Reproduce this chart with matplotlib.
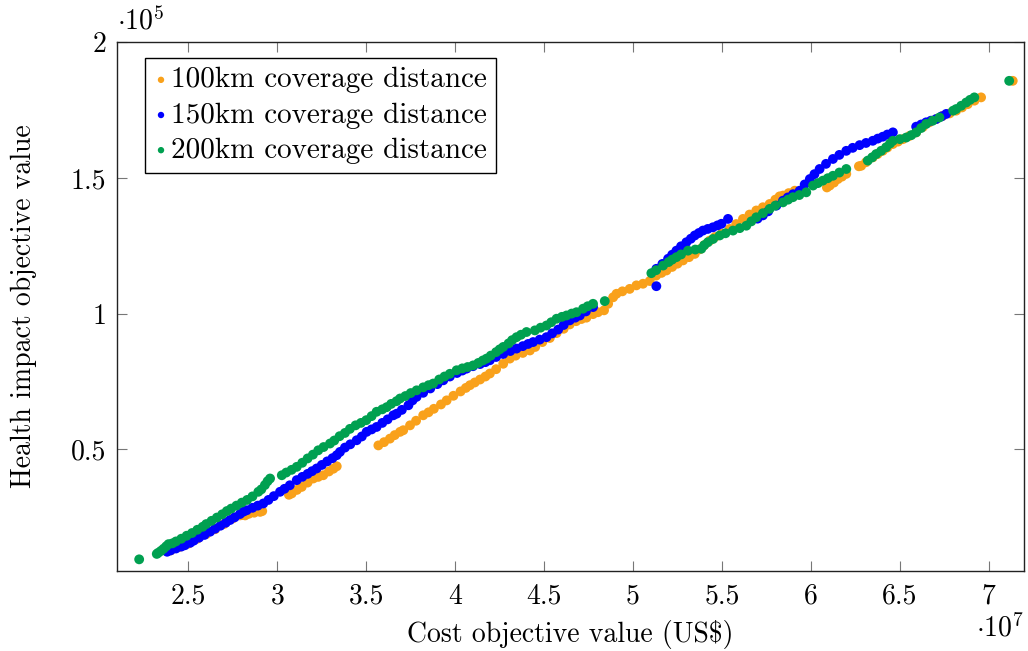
"""
Scatter of the cost vs. health impact trade-off for three coverage distances.
"""

import matplotlib
matplotlib.use("Agg")
import matplotlib.pyplot as plt

plt.rcParams['font.family'] = 'serif'
plt.rcParams['font.serif'] = ['cmr10']
plt.rcParams['mathtext.fontset'] = 'cm'
plt.rcParams['axes.unicode_minus'] = False
plt.rcParams['axes.formatter.use_mathtext'] = True

# x in units of 1e7 US$, y in units of 1e5
cost_100 = [2.40, 2.45, 2.50, 2.55, 2.60, 2.65, 2.70, 2.75, 2.79,
            2.80, 2.819, 2.84, 2.87, 2.903, 2.915,
            3.065, 3.081, 3.11, 3.137, 3.17, 3.202, 3.23, 3.258, 3.29, 3.315, 3.334,
            3.568, 3.60, 3.633, 3.66, 3.69, 3.708, 3.746, 3.78, 3.82, 3.85, 3.88, 3.92,
            3.952, 3.99, 4.03, 4.06, 4.083, 4.11, 4.14, 4.17, 4.195, 4.23, 4.27, 4.307,
            4.34, 4.38, 4.42, 4.45, 4.49, 4.532, 4.57, 4.61, 4.644, 4.68, 4.71, 4.738,
            4.775, 4.803, 4.837, 4.86, 4.888, 4.907, 4.94, 4.981, 5.019, 5.056, 5.094,
            5.13, 5.16, 5.188, 5.22, 5.25, 5.281, 5.315, 5.347, 5.375, 5.40, 5.431,
            5.46, 5.50, 5.543, 5.58, 5.618, 5.655, 5.693, 5.73, 5.768, 5.80, 5.824,
            5.843, 5.875, 5.909,
            6.09, 6.106, 6.13, 6.152, 6.175, 6.199,
            6.27, 6.283, 6.31, 6.348, 6.375, 6.404, 6.43, 6.461, 6.49, 6.517, 6.555,
            6.592, 6.63, 6.666, 6.705, 6.742, 6.78, 6.817, 6.85, 6.882, 6.92, 6.957,
            7.135]
health_100 = [0.127, 0.140, 0.152, 0.170, 0.187, 0.205, 0.224, 0.245, 0.256,
              0.257, 0.256, 0.262, 0.266, 0.269, 0.272,
              0.332, 0.337, 0.350, 0.361, 0.377, 0.392, 0.398, 0.404, 0.418, 0.428, 0.437,
              0.514, 0.526, 0.539, 0.552, 0.564, 0.570, 0.588, 0.605, 0.625, 0.636, 0.649, 0.665,
              0.680, 0.697, 0.713, 0.726, 0.736, 0.746, 0.757, 0.768, 0.779, 0.795, 0.815, 0.834,
              0.845, 0.855, 0.864, 0.877, 0.895, 0.910, 0.928, 0.944, 0.960, 0.972, 0.980, 0.985,
              0.998, 1.005, 1.012, 1.036, 1.060, 1.073, 1.082, 1.091, 1.104, 1.110, 1.120,
              1.140, 1.150, 1.159, 1.172, 1.184, 1.196, 1.208, 1.220, 1.237, 1.252, 1.269,
              1.282, 1.295, 1.312, 1.330, 1.349, 1.365, 1.380, 1.392, 1.404, 1.420, 1.432,
              1.435, 1.444, 1.453,
              1.465, 1.472, 1.483, 1.496, 1.505, 1.515,
              1.543, 1.545, 1.558, 1.576, 1.588, 1.600, 1.612, 1.625, 1.634, 1.643, 1.655,
              1.668, 1.688, 1.705, 1.717, 1.729, 1.738, 1.748, 1.760, 1.772, 1.785, 1.797,
              1.858]

cost_150 = [2.38, 2.40, 2.43, 2.46, 2.48, 2.51, 2.53, 2.56, 2.59, 2.622, 2.65, 2.68,
            2.71, 2.734, 2.76, 2.79, 2.81, 2.828, 2.86, 2.89, 2.921, 2.95, 2.98, 3.015,
            3.04, 3.07, 3.109, 3.14, 3.17, 3.195, 3.221, 3.25, 3.28, 3.31, 3.334, 3.352,
            3.38, 3.41, 3.446, 3.475, 3.502, 3.53, 3.558, 3.59, 3.62, 3.652, 3.671, 3.70,
            3.737, 3.76, 3.783, 3.82, 3.86, 3.90, 3.933, 3.97, 4.01, 4.04, 4.064, 4.10,
            4.14, 4.17, 4.195, 4.23, 4.27, 4.31, 4.345, 4.38, 4.41, 4.438, 4.475, 4.513,
            4.545, 4.579, 4.61, 4.644, 4.675, 4.701, 4.735, 4.775,
            5.131, 5.131, 5.165, 5.197, 5.22, 5.244, 5.27, 5.30, 5.325, 5.347, 5.37,
            5.393, 5.42, 5.449, 5.475, 5.497, 5.534,
            5.70, 5.73, 5.76, 5.806, 5.843, 5.87, 5.90, 5.937, 5.965, 5.994, 6.02, 6.049,
            6.085, 6.124, 6.16, 6.199, 6.235, 6.274, 6.31, 6.348, 6.376, 6.404, 6.43, 6.461,
            6.592, 6.62, 6.648, 6.675, 6.704, 6.735, 6.761]
health_150 = [0.122, 0.127, 0.134, 0.141, 0.146, 0.155, 0.163, 0.174, 0.184, 0.196, 0.207, 0.218,
              0.229, 0.239, 0.249, 0.261, 0.270, 0.275, 0.284, 0.292, 0.300, 0.313, 0.327, 0.343,
              0.354, 0.367, 0.386, 0.398, 0.409, 0.419, 0.429, 0.442, 0.455, 0.467, 0.478, 0.490,
              0.506, 0.518, 0.533, 0.547, 0.564, 0.573, 0.582, 0.597, 0.610, 0.625, 0.631, 0.645,
              0.662, 0.680, 0.693, 0.708, 0.724, 0.740, 0.754, 0.768, 0.781, 0.790, 0.797, 0.806,
              0.814, 0.821, 0.828, 0.840, 0.851, 0.862, 0.871, 0.880, 0.888, 0.895, 0.904, 0.913,
              0.927, 0.941, 0.958, 0.975, 0.985, 0.993, 1.008, 1.024,
              1.101, 1.165, 1.183, 1.202, 1.217, 1.232, 1.248, 1.263, 1.276, 1.288, 1.297,
              1.306, 1.312, 1.318, 1.325, 1.331, 1.349,
              1.350, 1.362, 1.377, 1.398, 1.416, 1.428, 1.440, 1.453, 1.476, 1.496, 1.514, 1.533,
              1.552, 1.570, 1.585, 1.600, 1.611, 1.621, 1.629, 1.637, 1.645, 1.652, 1.660, 1.668,
              1.689, 1.697, 1.705, 1.711, 1.717, 1.727, 1.736]

cost_200 = [2.223, 2.322, 2.33, 2.345, 2.36, 2.375, 2.388, 2.41, 2.43, 2.46, 2.49, 2.52,
            2.55, 2.58, 2.60, 2.63, 2.66, 2.69, 2.716, 2.74, 2.77, 2.80, 2.83, 2.86, 2.893,
            2.91, 2.93, 2.945, 2.959, 3.025, 3.05, 3.08, 3.109, 3.14, 3.17, 3.20, 3.23, 3.26,
            3.296, 3.32, 3.35, 3.38, 3.408, 3.44, 3.47, 3.50, 3.53, 3.558, 3.59, 3.615, 3.64,
            3.67, 3.69, 3.72, 3.75, 3.783, 3.82, 3.85, 3.876, 3.91, 3.94, 3.97, 4.008, 4.04,
            4.07, 4.101, 4.13, 4.155, 4.176, 4.20, 4.23, 4.25, 4.27, 4.30, 4.32, 4.345, 4.37,
            4.401, 4.448, 4.48, 4.513, 4.54, 4.57, 4.60, 4.626, 4.655, 4.682, 4.719, 4.745,
            4.775, 4.841,
            5.103, 5.13, 5.169, 5.20, 5.22, 5.244, 5.27, 5.309, 5.35, 5.384, 5.40, 5.421,
            5.45, 5.487, 5.52, 5.562, 5.60, 5.637, 5.665, 5.693, 5.73, 5.768, 5.80, 5.843,
            5.872, 5.899, 5.935, 5.974, 6.012, 6.04, 6.067, 6.095, 6.124, 6.16, 6.199,
            6.32, 6.345, 6.367, 6.395, 6.423, 6.445, 6.461, 6.50, 6.536, 6.565, 6.592, 6.62,
            6.648, 6.685, 6.723,
            6.80, 6.817, 6.845, 6.873, 6.895, 6.919,
            7.115]
health_200 = [0.094, 0.114, 0.118, 0.125, 0.133, 0.142, 0.150, 0.153, 0.160, 0.170, 0.181, 0.191,
              0.203, 0.214, 0.224, 0.236, 0.248, 0.260, 0.272, 0.281, 0.292, 0.303, 0.313, 0.326, 0.343,
              0.352, 0.368, 0.382, 0.392, 0.404, 0.414, 0.424, 0.435, 0.450, 0.466, 0.480, 0.496, 0.508,
              0.521, 0.532, 0.548, 0.560, 0.575, 0.588, 0.597, 0.607, 0.622, 0.638, 0.647, 0.655, 0.667,
              0.677, 0.687, 0.696, 0.707, 0.717, 0.728, 0.736, 0.742, 0.757, 0.768, 0.778, 0.791, 0.798,
              0.803, 0.809, 0.818, 0.827, 0.834, 0.845, 0.858, 0.868, 0.877, 0.890, 0.902, 0.913, 0.922,
              0.932, 0.938, 0.948, 0.956, 0.968, 0.981, 0.988, 0.993, 1.000, 1.005, 1.018, 1.027,
              1.036, 1.046,
              1.149, 1.160, 1.177, 1.190, 1.199, 1.208, 1.218, 1.232, 1.236, 1.239, 1.252, 1.263,
              1.275, 1.288, 1.296, 1.306, 1.315, 1.324, 1.340, 1.355, 1.370, 1.386, 1.398, 1.410,
              1.420, 1.429, 1.437, 1.447, 1.472, 1.481, 1.490, 1.499, 1.508, 1.520, 1.533,
              1.564, 1.576, 1.588, 1.600, 1.613, 1.627, 1.637, 1.643, 1.649, 1.658, 1.668, 1.684,
              1.699, 1.711, 1.723,
              1.748, 1.754, 1.766, 1.778, 1.788, 1.797,
              1.858]

labels = ['100km coverage distance', '150km coverage distance', '200km coverage distance']
colors = ['#F9A11B', '#0000FF', '#00A050']

x_ticks = [2.5, 3, 3.5, 4, 4.5, 5, 5.5, 6, 6.5, 7]
x_tick_labels = ['2.5', '3', '3.5', '4', '4.5', '5', '5.5', '6', '6.5', '7']
y_ticks = [0.5, 1, 1.5, 2]
y_tick_labels = ['0.5', '1', '1.5', '2']

FS = 20

fig = plt.figure(figsize=(10.28, 6.51), dpi=100)
ax = fig.add_axes([0.1141, 0.1233, 0.8823, 0.8117])

series = [(cost_100, health_100), (cost_150, health_150), (cost_200, health_200)]
for (xs, ys), lab, col in zip(series, labels, colors):
    ax.scatter(xs, ys, s=50, color=col, edgecolors='none', label=lab, zorder=3)

ax.set_xlim(2.1, 7.2)
ax.set_ylim(0.052, 2.0)
ax.set_xticks(x_ticks)
ax.set_xticklabels(x_tick_labels)
ax.set_yticks(y_ticks)
ax.set_yticklabels(y_tick_labels)
ax.tick_params(axis='both', direction='in', length=7.5, width=0.8, color='#777777',
               top=True, right=True, labelsize=FS)
ax.tick_params(axis='x', pad=9)
ax.tick_params(axis='y', pad=8)
for sp in ax.spines.values():
    sp.set_linewidth(1.0)
    sp.set_color('#222222')

ax.set_xlabel(r'Cost objective value (US\$)', fontsize=FS)
ax.xaxis.set_label_coords(0.499, -0.093)
ax.set_ylabel('Health impact objective value', fontsize=FS)
ax.yaxis.set_label_coords(-0.088, 0.5)

# pgfplots-style scale factors
ax.text(0.0, 1.012, r'$\cdot 10^{5}$', transform=ax.transAxes, fontsize=FS,
        ha='left', va='bottom')
ax.text(1.0, -0.082, r'$\cdot 10^{7}$', transform=ax.transAxes, fontsize=FS,
        ha='right', va='top')

leg = ax.legend(loc='upper left', bbox_to_anchor=(0.0305, 0.9697), fontsize=21,
                frameon=True, fancybox=False, edgecolor='black', framealpha=1,
                markerscale=0.65, handletextpad=0.1, handlelength=0.5,
                borderpad=0.3, labelspacing=0.3, borderaxespad=0)
leg.get_frame().set_linewidth(1.0)

fig.savefig('out.png', dpi=100)
